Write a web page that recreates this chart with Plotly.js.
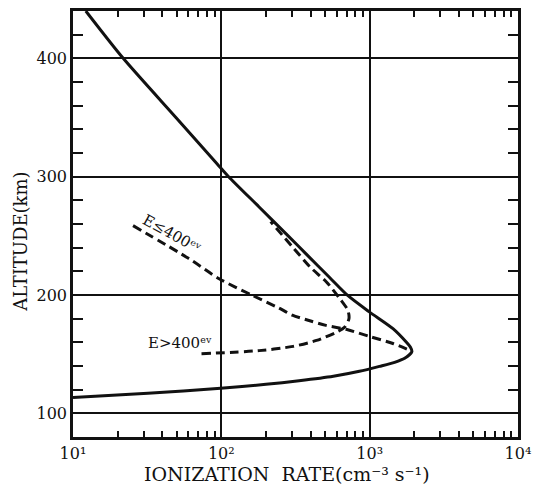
<!DOCTYPE html>
<html>
<head>
<meta charset="utf-8">
<script src="https://cdn.plot.ly/plotly-3.0.1.min.js"></script>
<style>html,body{margin:0;padding:0;background:#fff;}#chart{width:537px;height:486px;}</style>
</head>
<body>
<div id="chart"></div>
<script>
// Total ionization rate (solid)
const totalRate = [12.2, 21.8, 49.4, 93.5, 112, 179, 282, 371, 535, 711, 1000, 1436, 1770, 1880, 1925, 1722, 1472, 1164, 853, 569, 334, 200, 99, 32, 10];
const totalAlt  = [440, 400, 350, 311, 300, 274.6, 250, 235, 215, 199.6, 185.5, 171.5, 160, 156, 152.1, 146.5, 143.1, 139.7, 135.5, 131.3, 127.5, 124.5, 121.2, 117, 113.4];
// E <= 400 eV (dashed)
const lowRate = [25.4, 60, 96, 160, 244, 301, 400, 507, 693, 997, 1436, 1884];
const lowAlt  = [258.6, 231, 214, 200, 189, 183, 178, 174.3, 171, 165, 159, 153];
// E > 400 eV (dashed)
const highRate = [73.5, 180, 305, 438, 598, 677, 725, 713, 630, 513, 398, 305, 215];
const highAlt  = [150.4, 153, 156.6, 161.6, 168.6, 172.8, 180, 187, 196.8, 210.8, 223.5, 240, 262];
// axis tick labels
const xTickDefault = ['10', '100', '1000', '10k'];
const xTickText = ['10¹', '10²', '10³', '10⁴'];
const labelLow = 'E≤400ᵉᵛ';
const labelHigh = 'E>400ᵉᵛ';
const xTitle = 'IONIZATION\u00a0 RATE(cm⁻³ s⁻¹)';
const yTitle = 'ALTITUDE(km)';

const xAlias = {};
xTickDefault.forEach((k, i) => { xAlias[k] = xTickText[i]; });

const FONT = 'DejaVu Serif, Liberation Serif, serif';
const ink = '#111';

const traces = [
  {x: totalRate, y: totalAlt, mode: 'lines', line: {color: ink, width: 3, shape: 'spline', smoothing: 0.7}, hoverinfo: 'skip'},
  {x: lowRate, y: lowAlt, mode: 'lines', line: {color: ink, width: 3, dash: '9px,5px', shape: 'spline', smoothing: 0.8}, hoverinfo: 'skip'},
  {x: highRate, y: highAlt, mode: 'lines', line: {color: ink, width: 3, dash: '9px,5px', shape: 'spline', smoothing: 0.8}, hoverinfo: 'skip'}
];

const layout = {
  width: 537, height: 486,
  margin: {l: 73, r: 19, t: 11, b: 49, pad: 0, autoexpand: false},
  paper_bgcolor: '#fff', plot_bgcolor: '#fff',
  showlegend: false,
  font: {family: FONT, color: ink, size: 16},
  xaxis: {
    type: 'log', range: [1, 4], tickmode: 'linear', tick0: 0, dtick: 1,
    labelalias: xAlias,
    ticks: 'inside', ticklen: 3, tickwidth: 2, tickcolor: ink,
    showgrid: true, gridcolor: ink, gridwidth: 2,
    showline: true, linecolor: ink, linewidth: 2.5, mirror: 'ticks',
    zeroline: false,
    minor: {dtick: 'D1', ticks: 'inside', ticklen: 6, tickwidth: 2, tickcolor: ink, showgrid: false},
    automargin: false
  },
  yaxis: {
    range: [80, 440], tickmode: 'linear', tick0: 0, dtick: 100,
    ticks: 'inside', ticklen: 3, tickwidth: 2, tickcolor: ink,
    showgrid: true, gridcolor: ink, gridwidth: 2,
    showline: true, linecolor: ink, linewidth: 2.5, mirror: 'ticks',
    zeroline: false,
    minor: {tickmode: 'linear', tick0: 0, dtick: 20, ticks: 'inside', ticklen: 10, tickwidth: 2, tickcolor: ink, showgrid: false},
    automargin: false
  },
  annotations: [
    {xref: 'paper', yref: 'paper', x: 0.222, y: 0.4765, xanchor: 'center', yanchor: 'middle',
     text: labelLow, showarrow: false, textangle: 29, font: {family: FONT, size: 15, color: ink}},
    {xref: 'paper', yref: 'paper', x: 0.24, y: 0.22, xanchor: 'center', yanchor: 'middle',
     text: labelHigh, showarrow: false, font: {family: FONT, size: 15, color: ink}},
    {xref: 'paper', yref: 'paper', x: -0.117, y: 0.458, xanchor: 'center', yanchor: 'middle',
     text: yTitle, showarrow: false, textangle: -90, font: {family: FONT, size: 18, color: ink}},
    {xref: 'paper', yref: 'paper', x: 0.482, y: -0.087, xanchor: 'center', yanchor: 'middle',
     text: xTitle, showarrow: false, font: {family: FONT, size: 19, color: ink}}
  ]
};

Plotly.newPlot('chart', traces, layout, {displayModeBar: false});
</script>
</body>
</html>
